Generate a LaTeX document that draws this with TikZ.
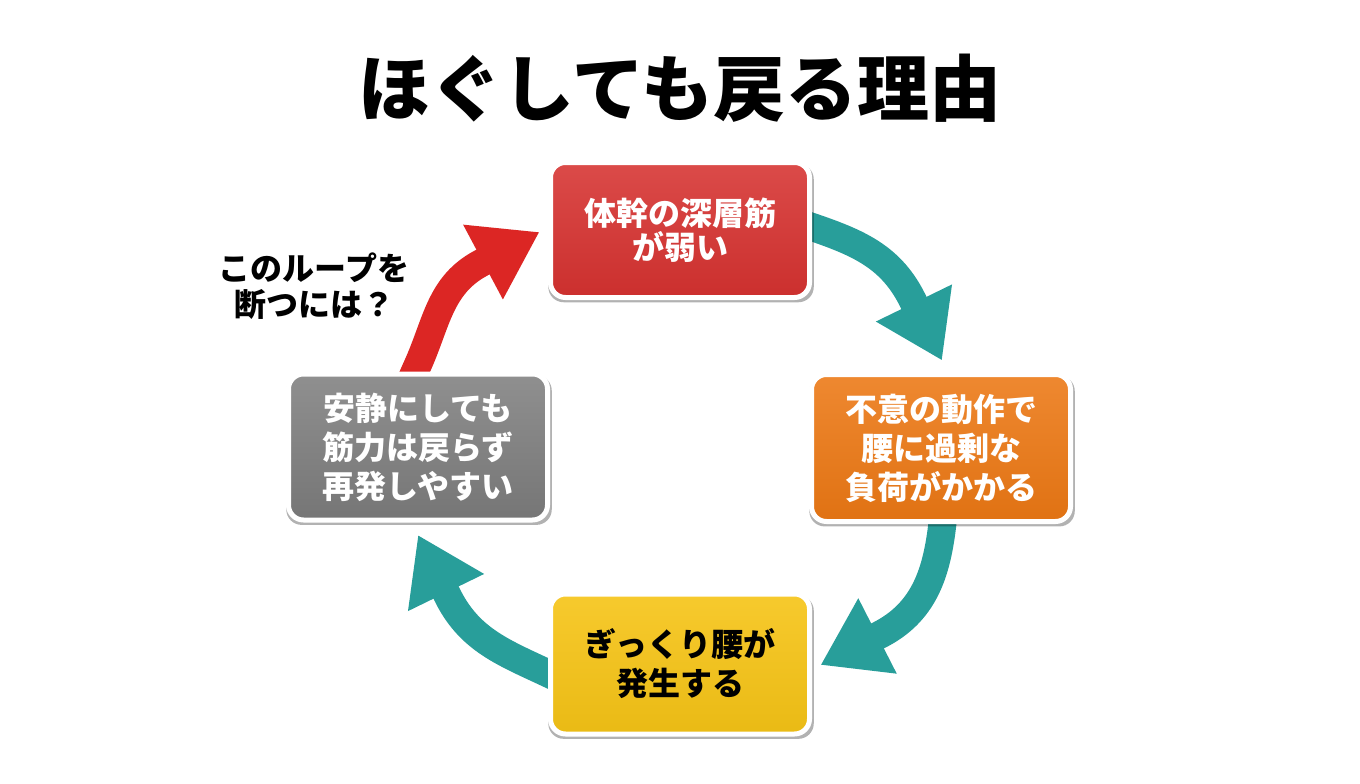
\documentclass[tikz,border=0pt]{standalone}
\usepackage{fontspec}
\setmainfont{Noto Sans CJK JP}
\usetikzlibrary{arrows.meta,shadows}
\definecolor{boxred}{RGB}{214,50,48}
\definecolor{boxorange}{RGB}{236,120,20}
\definecolor{boxyellow}{RGB}{246,196,22}
\definecolor{boxgray}{RGB}{128,128,128}
\definecolor{flowteal}{RGB}{40,158,154}
\definecolor{loopred}{RGB}{220,38,36}
\pgfdeclarelayer{bg}
\pgfdeclarelayer{arrowlayer}
\pgfsetlayers{bg,arrowlayer,main}
\tikzset{
  box/.style={draw=white, line width=5pt, rounded corners=15pt, minimum width=259pt,
    align=center, inner sep=0pt,
    drop shadow={shadow scale=1.025, shadow xshift=1pt, shadow yshift=-3pt, opacity=0.3, fill=black},
    font=\fontsize{32pt}{39pt}\selectfont\bfseries},
  flow/.style={line width=28pt, draw=flowteal, -{Triangle[length=64pt,width=80pt]}},
  redflow/.style={line width=28pt, draw=loopred, -{Triangle[length=64pt,width=80pt]}}
}
\begin{document}
\begin{tikzpicture}[x=1pt,y=1pt]
\useasboundingbox (0,0) rectangle (1360,-784);
\begin{pgfonlayer}{bg}
\fill[white] (0,0) rectangle (1360,-784);
\end{pgfonlayer}

\node[font=\fontsize{72pt}{80pt}\selectfont\bfseries] (title) at (680,-88) {ほぐしても戻る理由};

\node[box, top color=boxred!88!white, bottom color=boxred!95!black, minimum height=135pt,
  font=\fontsize{32pt}{34pt}\selectfont\bfseries, text=white] (red) at (680,-230) {体幹の深層筋\\が弱い};
\node[box, top color=boxorange!88!white, bottom color=boxorange!95!black, minimum height=147pt,
  text=white] (orange) at (941,-448) {不意の動作で\\腰に過剰な\\負荷がかかる};
\node[box, top color=boxyellow!90!white, bottom color=boxyellow!95!black, minimum height=140pt,
  text=black] (yellow) at (680,-664) {ぎっくり腰が\\発生する};
\node[box, top color=boxgray!88!white, bottom color=boxgray!92!black, minimum height=146pt,
  text=white] (gray) at (418,-447) {安静にしても\\筋力は戻らず\\再発しやすい};

\node[align=center, font=\fontsize{32pt}{36pt}\selectfont\bfseries] (question) at (314,-286) {このループを\\断つには？};

% arrow start points (at box edges) and tips
\coordinate (s1) at ([shift={(3,2)}]red.east);
\coordinate (t1) at ([shift={(1,11.5)}]orange.north);
\coordinate (s2) at ([shift={(1,-3)}]orange.south);
\coordinate (t2) at ([shift={(8.5,-1)}]yellow.east);
\coordinate (s3) at ([shift={(-3,-8)}]yellow.west);
\coordinate (t3) at ([yshift=-12.5]gray.south);
\coordinate (s4) at ([yshift=7]gray.north);
\coordinate (t4) at ([shift={(-8.5,-2)}]red.west);

\begin{pgfonlayer}{arrowlayer}
\draw[flow] ([shift={(161:22)}]s1) -- (s1) to[out=-19, in=116] ([shift={(116:66)}]t1) -- (t1);
\draw[flow] ([shift={(83:22)}]s2) -- (s2) to[out=-97, in=27] ([shift={(27:66)}]t2) -- (t2);
\draw[flow] ([shift={(-25:22)}]s3) -- (s3) to[out=155, in=-64] ([shift={(-64:66)}]t3) -- (t3);
\draw[redflow] ([shift={(246:22)}]s4) -- (s4) to[out=66, in=208] ([shift={(208:66)}]t4) -- (t4);
\end{pgfonlayer}
\end{tikzpicture}
\end{document}
